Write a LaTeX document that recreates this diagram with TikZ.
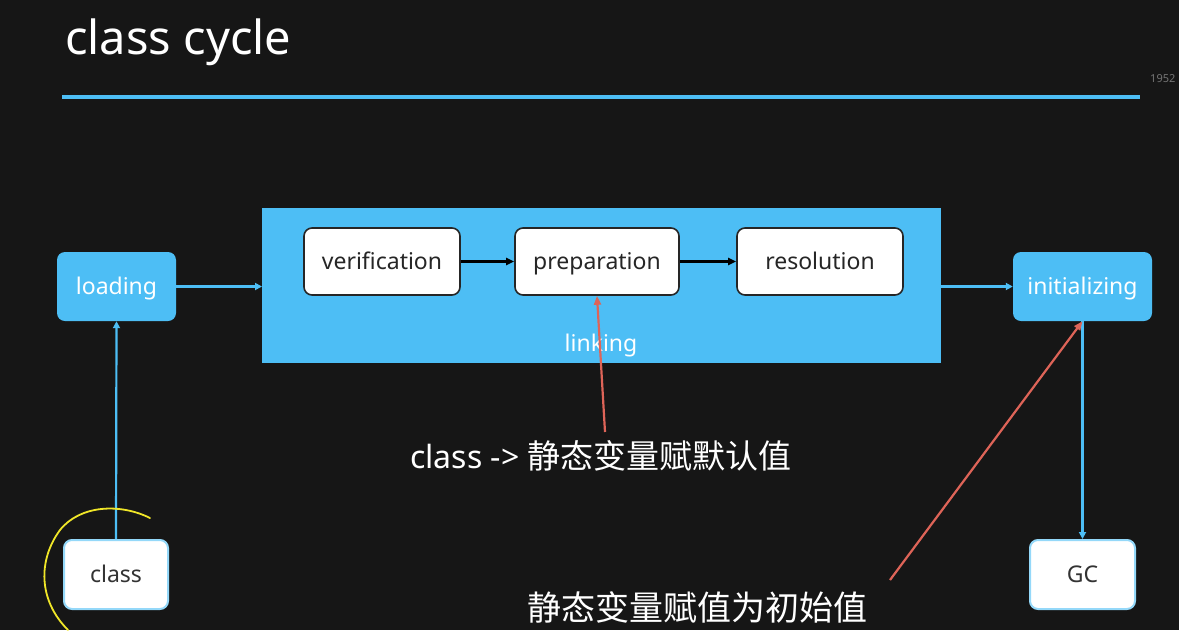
\documentclass[tikz,border=0pt]{standalone}
\usepackage{fontspec}
\setmainfont{Noto Sans}
\newfontfamily\cjk{Noto Sans CJK SC}
\usetikzlibrary{arrows.meta}
\definecolor{board}{RGB}{22,22,22}
\definecolor{skyb}{RGB}{77,190,245}
\definecolor{redl}{RGB}{222,100,88}
\definecolor{yel}{RGB}{240,230,40}
\begin{document}
\begin{tikzpicture}[x=1pt,y=-1pt,
  boxfont/.style={font=\fontsize{23}{26}\selectfont,text height=19pt,text depth=3pt},
  bluebox/.style={boxfont,fill=skyb,rounded corners=8pt,text=white},
  whitebox/.style={boxfont,fill=white,draw=black!85,line width=1.6pt,rounded corners=8pt,text=black!85},
  gbox/.style={boxfont,fill=white,draw=skyb!60,line width=2pt,rounded corners=8pt,text=black!80},
  barrow/.style={draw=skyb,line width=2.2pt,-{Triangle[length=7pt,width=7pt]}},
  karrow/.style={draw=black,line width=2.2pt,-{Triangle[length=8pt,width=7pt]}},
  rarrow/.style={draw=redl,line width=2.2pt,-{Triangle[length=9pt,width=7pt]}}]
\useasboundingbox (0,0) rectangle (1179,630);
\fill[board] (0,0) rectangle (1179,630);
\node[anchor=base west,text=white,font=\fontsize{47}{52}\selectfont,inner sep=0] (title) at (65,54) {class cycle};
\node[anchor=base west,text=black!55,font=\fontsize{11}{12}\selectfont,inner sep=0] (wm) at (1150,82) {1952};
\draw[skyb,line width=3.5pt] (62,97) -- (1140,97);
% linking
\node[fill=skyb,minimum width=679pt,minimum height=155pt,inner sep=0,anchor=north west] (linking) at (262,208) {};
\node[text=white,boxfont] (linklbl) at (601,343) {linking};
\node[whitebox,minimum width=156pt,minimum height=67pt,inner sep=0] (ver) at (382,261.5) {verification};
\node[whitebox,minimum width=164pt,minimum height=67pt,inner sep=0] (prep) at (597,261.5) {preparation};
\node[whitebox,minimum width=166pt,minimum height=67pt,inner sep=0] (res) at (820,261.5) {resolution};
\draw[karrow] (ver.east) -- (prep.west);
\draw[karrow] (prep.east) -- (res.west);
% side boxes
\node[bluebox,minimum width=119pt,minimum height=69pt,inner sep=0] (load) at (116.5,286.5) {loading};
\node[bluebox,minimum width=139pt,minimum height=69pt,inner sep=0] (init) at (1082.5,286.5) {initializing};
\node[gbox,minimum width=104pt,minimum height=69pt,inner sep=0] (cls) at (116,574.5) {class};
\node[gbox,minimum width=105pt,minimum height=69pt,inner sep=0] (gc) at (1082.5,574.5) {GC};
\draw[barrow] (load.east) -- (linking.west |- load.east);
\draw[barrow] (linking.east |- init.west) -- (init.west);
\draw[barrow] (cls.north) -- (load.south);
\draw[barrow] (init.south) -- (gc.north);
% annotations
\node[anchor=west,text=white,font=\fontsize{32}{36}\selectfont,inner sep=0] (t1) at (410,456) {class -> {\cjk\fontsize{33}{36}\selectfont 静态变量赋默认值}};
\node[anchor=west,text=white,font=\cjk\fontsize{34}{38}\selectfont,inner sep=0] (t2) at (527,607) {静态变量赋值为初始值};
\coordinate (r1) at (605,432);
\coordinate (r2) at (890,580);
\draw[rarrow] (r1) -- (prep.south);
\draw[rarrow] (r2) -- (init.south);
% yellow mark
\draw[yel,line width=1.8pt,line cap=round] (150,518) .. controls (120,503) and (80,505) .. (60,530) .. controls (38,560) and (38,600) .. (68,630);
\end{tikzpicture}
\end{document}
